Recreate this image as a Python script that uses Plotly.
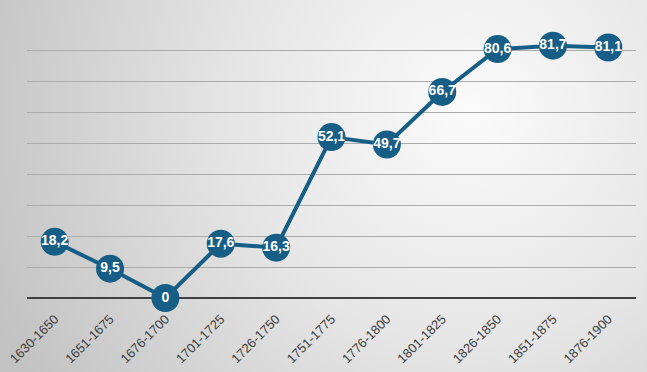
import plotly.graph_objects as go

categories = ["1630-1650", "1651-1675", "1676-1700", "1701-1725", "1726-1750",
              "1751-1775", "1776-1800", "1801-1825", "1826-1850", "1851-1875", "1876-1900"]
values = [18.2, 9.5, 0, 17.6, 16.3, 52.1, 49.7, 66.7, 80.6, 81.7, 81.1]
labels = [("%g" % v).replace(".", ",") for v in values]

line_color = "#175e86"

bg_svg = (
    "data:image/svg+xml;utf8,"
    "<svg xmlns='http://www.w3.org/2000/svg' width='647' height='372'>"
    "<defs><radialGradient id='g' gradientUnits='userSpaceOnUse' cx='470' cy='110' r='520'>"
    "<stop offset='0' stop-color='%23fbfbfb'/>"
    "<stop offset='0.45' stop-color='%23e6e6e6'/>"
    "<stop offset='1' stop-color='%23c2c2c2'/>"
    "</radialGradient></defs>"
    "<rect width='647' height='372' fill='url(%23g)'/></svg>"
)

fig = go.Figure()
fig.add_trace(go.Scatter(
    x=categories, y=values, mode="lines+markers+text",
    line=dict(color=line_color, width=4),
    marker=dict(size=28, color=line_color),
    text=labels, textposition="middle center",
    textfont=dict(family="Liberation Sans Narrow, Arial Narrow, sans-serif", size=14, color="white", weight="bold"),
    cliponaxis=False,
    hoverinfo="skip",
))

fig.update_layout(
    width=647, height=372,
    margin=dict(l=27, r=11, t=20, b=74, autoexpand=False),
    paper_bgcolor="rgba(0,0,0,0)",
    plot_bgcolor="rgba(0,0,0,0)",
    showlegend=False,
    images=[dict(source=bg_svg, xref="paper", yref="paper", x=-27/609, y=1+20/278,
                 sizex=647/609, sizey=372/278, xanchor="left", yanchor="top",
                 sizing="stretch", layer="below")],
    xaxis=dict(type="category", range=[-0.5, len(categories) - 0.5], tickangle=-45,
               showgrid=False, ticks="", ticklabelstandoff=10, automargin=False,
               tickfont=dict(family="Liberation Sans, Arial, sans-serif", size=13, color="#404040"),
               showline=False, zeroline=False),
    yaxis=dict(range=[0, 90], dtick=10, showticklabels=False, showgrid=True, automargin=False,
               gridcolor="#ababab", gridwidth=1, zeroline=True, zerolinecolor="#404040",
               zerolinewidth=2, showline=False),
)

fig.write_html("out.html", config={"displayModeBar": False},
               post_script="document.body.style.margin='0';")
